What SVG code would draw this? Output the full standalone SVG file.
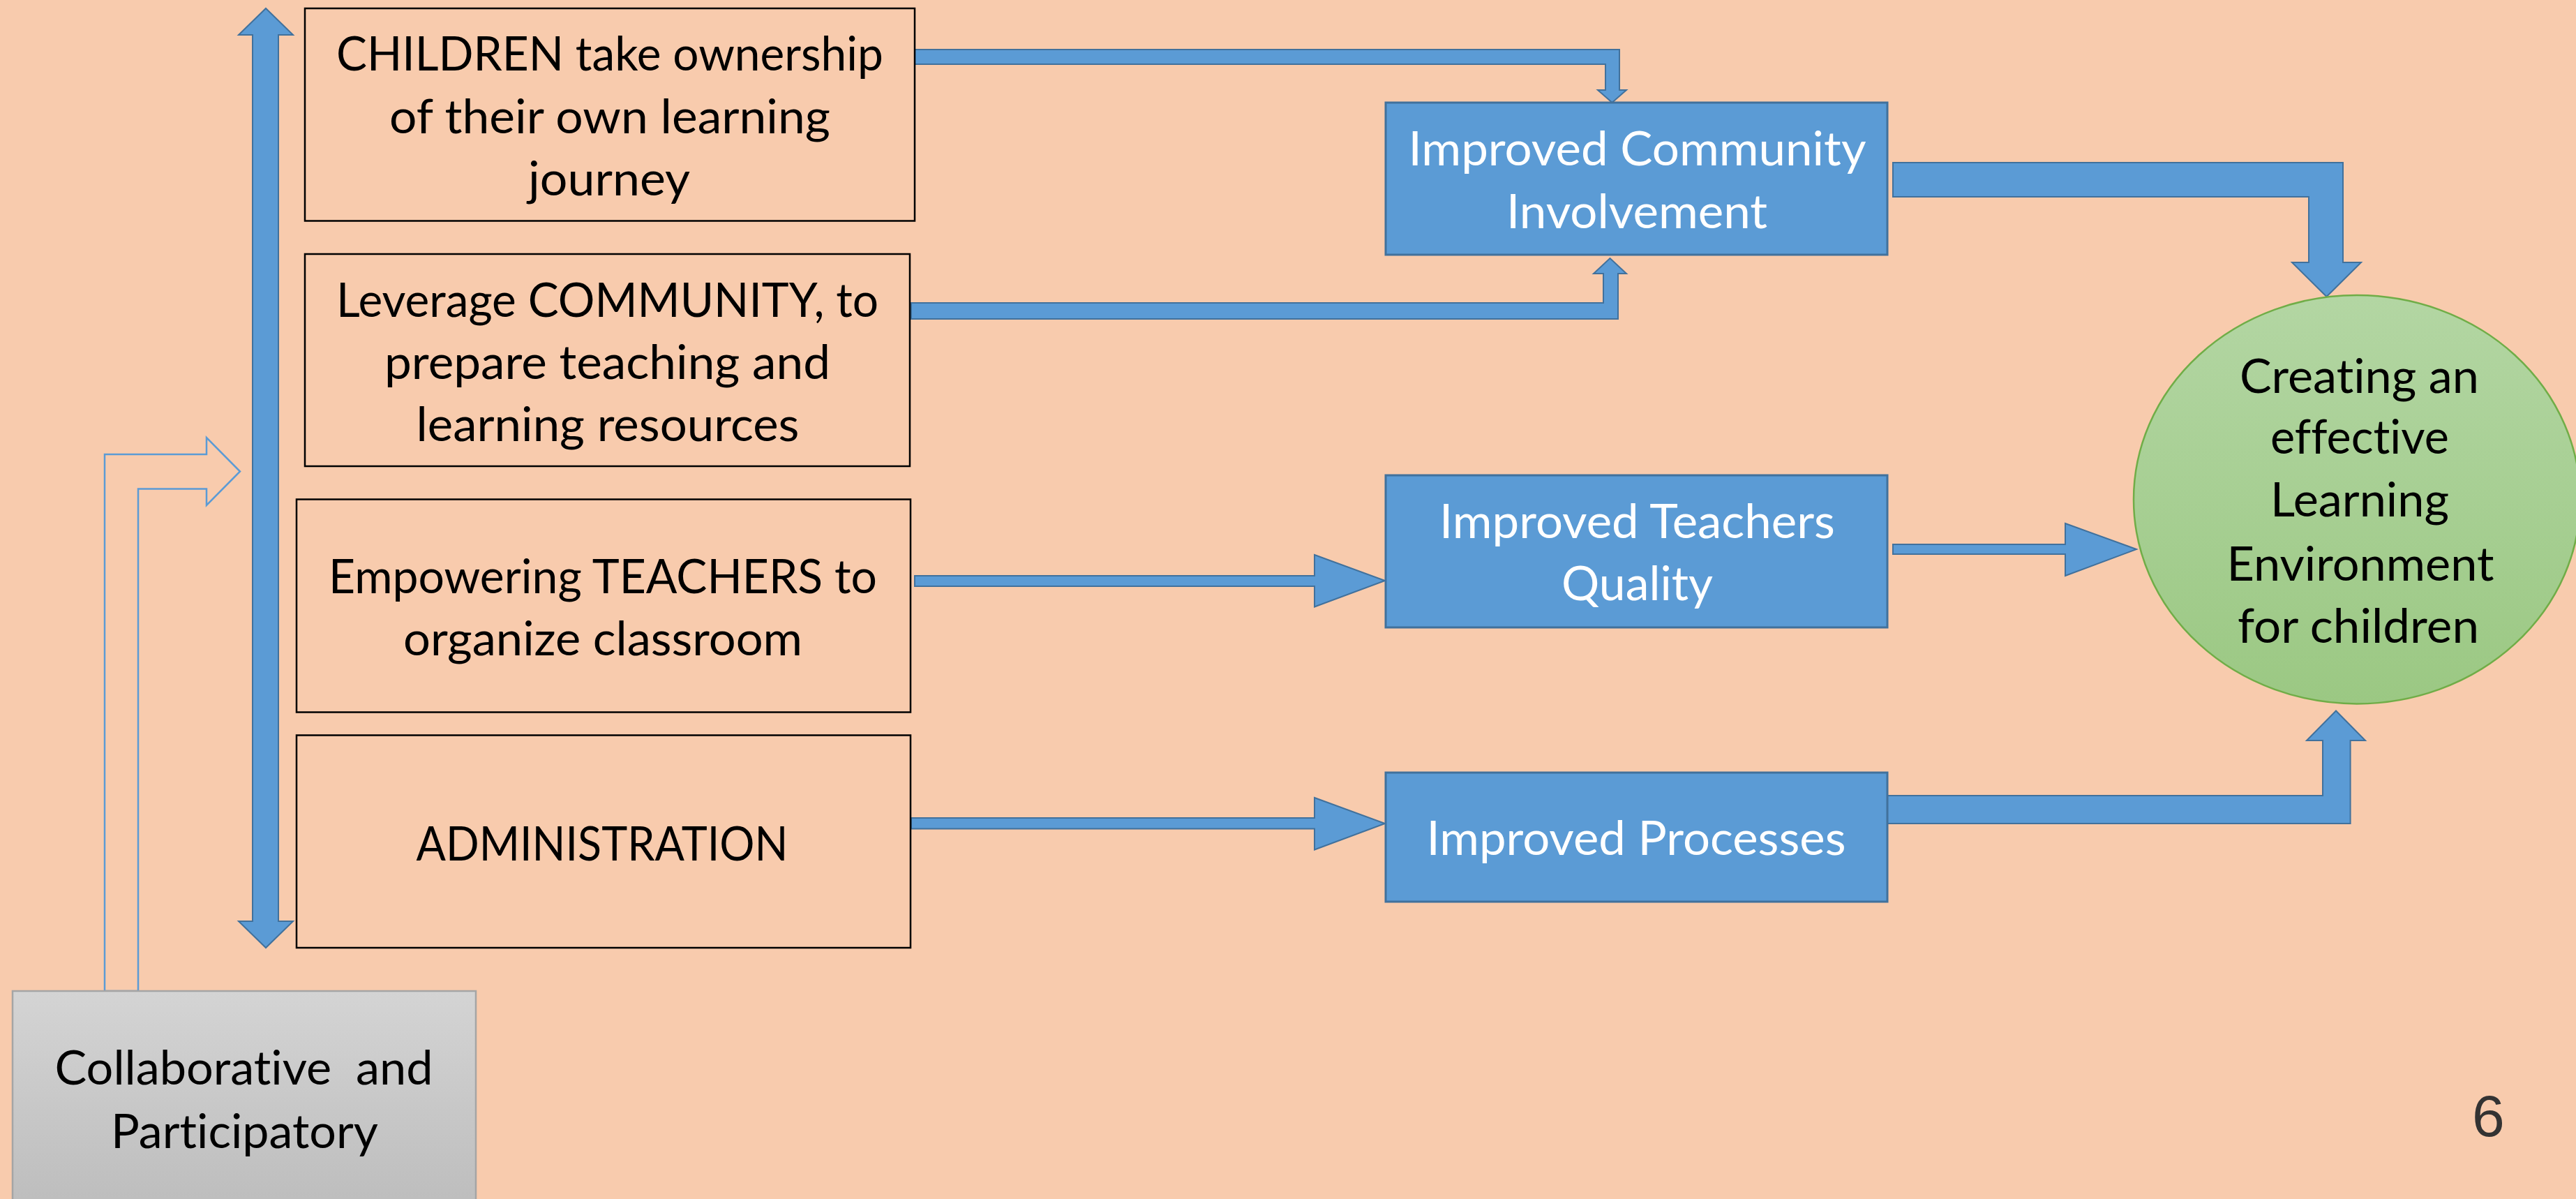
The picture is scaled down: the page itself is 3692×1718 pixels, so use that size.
<svg xmlns="http://www.w3.org/2000/svg" width="3692" height="1718" viewBox="0 0 3692 1718">
<defs>
<style>
.bg{fill:#F8CBAD}
.box{fill:#F8CBAD;stroke:#000;stroke-width:2.5}
.bbox{fill:#5B9BD5;stroke:#41719C;stroke-width:3}
.arr{fill:#5B9BD5;stroke:#41719C;stroke-width:2}
.hollow{fill:none;stroke:#5B9BD5;stroke-width:2.5}
.t{font-family:Lato,"Open Sans",sans-serif;font-size:67px;text-anchor:middle;fill:#000;font-variant-ligatures:none;font-feature-settings:"liga" 0;white-space:pre}
.w{fill:#fff}
</style>
<linearGradient id="gGray" x1="0" y1="0" x2="0" y2="1">
<stop offset="0" stop-color="#D4D4D4"/>
<stop offset="1" stop-color="#BDBDBD"/>
</linearGradient>
<linearGradient id="gGreen" x1="0" y1="0" x2="0" y2="1">
<stop offset="0" stop-color="#B3D6A3"/>
<stop offset="1" stop-color="#9BC883"/>
</linearGradient>
</defs>
<rect class="bg" x="0" y="0" width="3692" height="1718"/>

<g id="connectors">
<polygon id="vertical-double-arrow" class="arr" points="381,12 420,50 399,50 399,1320 420,1320 381,1358 342,1320 362,1320 362,50 342,50"/>
<path id="collab-arrow" class="hollow" d="M150,1420 L150,651 L296,651 L296,627 L344,675.5 L296,724 L296,700.5 L198,700.5 L198,1420 Z"/>
<polygon id="c1-community" class="arr" points="1311,71 2321,71 2321,129 2331,129 2310.5,147 2290,129 2301,129 2301,92 1311,92"/>
<polygon id="c2-community" class="arr" points="1306,457 2319,457 2319,392 2331,392 2307.5,370 2284,392 2298,392 2298,434 1306,434"/>
<polygon id="c3-teachers" class="arr" points="1311,825 1884,825 1884,795 1985,832 1884,869.5 1884,840 1311,840"/>
<polygon id="c4-processes" class="arr" points="1306,1172 1884,1172 1884,1143 1985,1180 1884,1217.5 1884,1187.5 1306,1187.5"/>
<polygon id="community-env" class="arr" points="2713,233 3358,233 3358,376 3384,376 3334.5,425 3285,376 3309,376 3309,282 2713,282"/>
<polygon id="teachers-env" class="arr" points="2713,780 2960,780 2960,750 3062,787 2960,825 2960,794 2713,794"/>
<polygon id="processes-env" class="arr" points="2699,1140 3329,1140 3329,1061 3306,1061 3348,1018.5 3390,1061 3368.6,1061 3368.6,1180 2699,1180"/>
</g>

<g id="node-children">
<rect class="box" x="437" y="12" width="874" height="304.5"/>
<text class="t" x="874" y="101" textLength="784" lengthAdjust="spacingAndGlyphs">CHILDREN take ownership</text>
<text class="t" x="874" y="190.5" textLength="632" lengthAdjust="spacingAndGlyphs">of their own learning</text>
<text class="t" x="873" y="280" textLength="232" lengthAdjust="spacingAndGlyphs">journey</text>
</g>

<g id="node-community">
<rect class="box" x="437" y="364" width="867" height="304"/>
<text class="t" x="870.5" y="454" textLength="777" lengthAdjust="spacingAndGlyphs">Leverage COMMUNITY, to</text>
<text class="t" x="870.5" y="543" textLength="639" lengthAdjust="spacingAndGlyphs">prepare teaching and</text>
<text class="t" x="871" y="631.5" textLength="549" lengthAdjust="spacingAndGlyphs">learning resources</text>
</g>

<g id="node-teachers">
<rect class="box" x="425" y="715.5" width="880" height="305"/>
<text class="t" x="864" y="849.5" textLength="786" lengthAdjust="spacingAndGlyphs">Empowering TEACHERS to</text>
<text class="t" x="864" y="938.5" textLength="572" lengthAdjust="spacingAndGlyphs">organize classroom</text>
</g>

<g id="node-admin">
<rect class="box" x="425" y="1053.5" width="880" height="304.5"/>
<text class="t" x="863" y="1232.5" textLength="533" lengthAdjust="spacingAndGlyphs">ADMINISTRATION</text>
</g>

<g id="node-collab">
<rect x="18" y="1420" width="664" height="310" fill="url(#gGray)" stroke="#A5A5A5" stroke-width="2.5"/>
<text class="t" x="349.6" y="1554" textLength="542" lengthAdjust="spacingAndGlyphs" xml:space="preserve">Collaborative  and</text>
<text class="t" x="350.5" y="1644.5" textLength="383" lengthAdjust="spacingAndGlyphs">Participatory</text>
</g>

<g id="node-improved-community">
<rect class="bbox" x="1986" y="147" width="719" height="218"/>
<text class="t w" x="2346.5" y="236.5" textLength="656" lengthAdjust="spacingAndGlyphs">Improved Community</text>
<text class="t w" x="2346" y="327" textLength="374" lengthAdjust="spacingAndGlyphs">Involvement</text>
</g>

<g id="node-improved-teachers">
<rect class="bbox" x="1986" y="681" width="719" height="218"/>
<text class="t w" x="2346.5" y="771" textLength="567" lengthAdjust="spacingAndGlyphs">Improved Teachers</text>
<text class="t w" x="2346.5" y="860" textLength="217" lengthAdjust="spacingAndGlyphs">Quality</text>
</g>

<g id="node-improved-processes">
<rect class="bbox" x="1986" y="1107" width="719" height="185"/>
<text class="t w" x="2345" y="1224.5" textLength="601" lengthAdjust="spacingAndGlyphs">Improved Processes</text>
</g>

<g id="node-environment">
<ellipse cx="3378" cy="715.7" rx="320" ry="292.7" fill="url(#gGreen)" stroke="#70AD47" stroke-width="2.5"/>
<text class="t" x="3381.5" y="563" textLength="343" lengthAdjust="spacingAndGlyphs">Creating an</text>
<text class="t" x="3382" y="650" textLength="256" lengthAdjust="spacingAndGlyphs">effective</text>
<text class="t" x="3382" y="739.5" textLength="256" lengthAdjust="spacingAndGlyphs">Learning</text>
<text class="t" x="3383" y="831.5" textLength="383" lengthAdjust="spacingAndGlyphs">Environment</text>
<text class="t" x="3380" y="921" textLength="346" lengthAdjust="spacingAndGlyphs">for children</text>
</g>

<text x="3543" y="1628" font-family="Liberation Sans, Arial, sans-serif" font-size="84" fill="#333333">6</text>
</svg>
